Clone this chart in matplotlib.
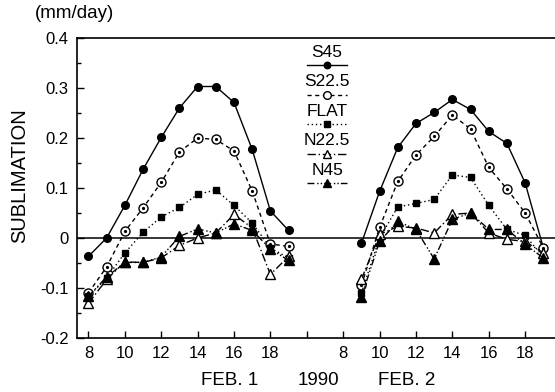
import matplotlib
matplotlib.use("Agg")
import matplotlib.pyplot as plt
from matplotlib.ticker import MultipleLocator

plt.rcParams["font.family"] = ["Liberation Sans", "DejaVu Sans"]

# hourly sublimation (mm/day) for each slope orientation
hours_day1 = [8, 9, 10, 11, 12, 13, 14, 15, 16, 17, 18, 19]
hours_day2 = [9, 10, 11, 12, 13, 14, 15, 16, 17, 18, 19]

s45_day1 = [-0.037, 0.0, 0.065, 0.137, 0.201, 0.26, 0.303, 0.303, 0.271, 0.177, 0.054, 0.015]
s225_day1 = [-0.11, -0.058, 0.013, 0.06, 0.111, 0.172, 0.2, 0.197, 0.174, 0.094, -0.012, -0.017]
flat_day1 = [-0.117, -0.08, -0.03, 0.011, 0.042, 0.061, 0.087, 0.096, 0.065, 0.03, -0.02, -0.04]
n225_day1 = [-0.131, -0.083, -0.048, -0.049, -0.04, -0.015, 0.0, 0.01, 0.047, 0.02, -0.073, -0.037]
n45_day1 = [-0.117, -0.078, -0.049, -0.049, -0.038, 0.003, 0.018, 0.01, 0.028, 0.015, -0.022, -0.045]

s45_day2 = [-0.011, 0.093, 0.181, 0.229, 0.251, 0.277, 0.257, 0.213, 0.189, 0.11, -0.02]
s225_day2 = [-0.095, 0.021, 0.113, 0.166, 0.203, 0.246, 0.218, 0.141, 0.098, 0.05, -0.02]
flat_day2 = [-0.11, 0.0, 0.062, 0.069, 0.077, 0.126, 0.121, 0.065, 0.017, 0.005, -0.038]
n225_day2 = [-0.083, 0.007, 0.023, 0.02, 0.01, 0.047, 0.05, 0.01, -0.003, -0.007, -0.03]
n45_day2 = [-0.118, -0.007, 0.033, 0.017, -0.042, 0.037, 0.05, 0.017, 0.017, -0.013, -0.04]

labels = ["S45", "S22.5", "FLAT", "N22.5", "N45"]
tick_hours = [8, 10, 12, 14, 16, 18]

# second day is drawn 14 h further along the axis
DAY2_SHIFT = 14

styles = {
    "S45": dict(ls="-", marker="o", mfc="black", ms=5.5),
    "S22.5": dict(ls=(0, (3, 2.5)), marker="o", mfc="white", ms=6.5),
    "FLAT": dict(ls=(0, (1, 2)), marker="s", mfc="black", ms=5),
    "N22.5": dict(ls=(0, (6, 2, 1, 2)), marker="^", mfc="white", ms=6.5),
    "N45": dict(ls=(0, (5, 2, 1, 1.5, 1, 1.5)), marker="^", mfc="black", ms=6.5),
}
series = {
    "S45": (s45_day1, s45_day2),
    "S22.5": (s225_day1, s225_day2),
    "FLAT": (flat_day1, flat_day2),
    "N22.5": (n225_day1, n225_day2),
    "N45": (n45_day1, n45_day2),
}

fig = plt.figure(figsize=(5.55, 3.92), dpi=100)
ax = fig.add_axes([0.139, 0.138, 0.861, 0.765])

x2 = [h + DAY2_SHIFT for h in hours_day2]
for name in labels:
    d1, d2 = series[name]
    st = styles[name]
    for xs, ys in ((hours_day1, d1), (x2, d2)):
        ax.plot(xs, ys, color="black", lw=1.0, linestyle=st["ls"],
                marker=st["marker"], mfc=st["mfc"], mec="black",
                mew=1.0, ms=st["ms"], zorder=3)
        if name == "S22.5":
            ax.plot(xs, ys, ls="none", marker="o", ms=1.3, color="black", zorder=4)

ax.axhline(0, color="black", lw=1.1, zorder=2)

# legend: label text above a short line sample
leg_x = 0.523
for i, name in enumerate(labels):
    st = styles[name]
    ty = 0.953 - 0.0987 * i
    ly = ty - 0.043
    ax.text(leg_x, ty, name, transform=ax.transAxes, ha="center", va="center",
            fontsize=12.5)
    ax.plot([leg_x - 0.041, leg_x + 0.041], [ly, ly], transform=ax.transAxes,
            color="black", lw=1.0, linestyle=st["ls"], clip_on=False)
    ax.plot([leg_x], [ly], transform=ax.transAxes, ls="none",
            marker=st["marker"], mfc=st["mfc"], mec="black", mew=1.0,
            ms=st["ms"] * 0.85, color="black", clip_on=False)

ax.set_xlim(7.38, 33.64)
ax.set_ylim(-0.2, 0.4)

xticks = tick_hours + [20] + [h + DAY2_SHIFT for h in tick_hours]
xlabels = [str(h) for h in tick_hours] + [""] + [str(h) for h in tick_hours]
ax.set_xticks(xticks)
ax.set_xticklabels(xlabels)
ax.set_yticks([-0.2, -0.1, 0, 0.1, 0.2, 0.3, 0.4])
ax.set_yticklabels(["-0.2", "-0.1", "0", "0.1", "0.2", "0.3", "0.4"])
ax.yaxis.set_minor_locator(MultipleLocator(0.05))

ax.tick_params(which="major", direction="in", length=5, width=1.0,
               labelsize=12, pad=6)
ax.tick_params(which="minor", direction="in", length=3, width=1.0)
ax.spines["right"].set_visible(False)
for s in ("left", "bottom", "top"):
    ax.spines[s].set_linewidth(1.2)

fig.text(0.036, 0.553, "SUBLIMATION", fontsize=14.5, rotation=90,
         ha="center", va="center")
fig.text(0.063, 0.965, "(mm/day)", fontsize=13.5, ha="left", va="center")
fig.text(0.413, 0.03, "FEB. 1", fontsize=13.5, ha="center", va="center")
fig.text(0.573, 0.03, "1990", fontsize=13.5, ha="center", va="center")
fig.text(0.732, 0.03, "FEB. 2", fontsize=13.5, ha="center", va="center")

fig.savefig("out.png", dpi=100)
